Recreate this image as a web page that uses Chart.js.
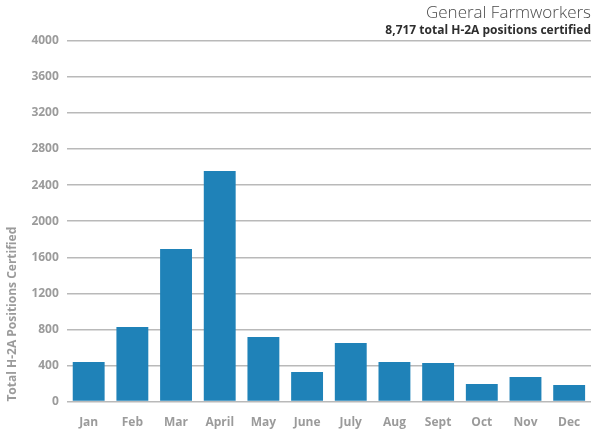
<!DOCTYPE html>
<html>
<head>
<meta charset="utf-8">
<script src="https://cdn.jsdelivr.net/npm/chart.js@4/dist/chart.umd.min.js"></script>
<style>
  html, body { margin: 0; padding: 0; background: #fff; }
  #wrap { width: 592px; height: 433px; position: relative; }
</style>
</head>
<body>
<div id="wrap"><canvas id="chart"></canvas></div>
<script>
// data
const months = ['Jan', 'Feb', 'Mar', 'April', 'May', 'June', 'July', 'Aug', 'Sept', 'Oct', 'Nov', 'Dec'];
const positions = [440, 828, 1692, 2556, 717, 329, 650, 440, 429, 196, 274, 185];
const yMin = 0;
const yMax = 4000;
const yStep = 400;

const titleText = 'General Farmworkers';
const subtitleText = '8,717 total H-2A positions certified';
const yTitleText = 'Total H-2A Positions Certified';

const barColor = '#1f82b8';
const tickGrey = '#9b9b9b';
const gridGrey = '#b9b9b9';
const fontFamily = '"Open Sans", Lato, sans-serif';

const ctx = document.getElementById('chart').getContext('2d');
const chart = new Chart(ctx, {
    type: 'bar',
    data: {
        labels: months,
        datasets: [{
            label: 'Positions certified',
            data: positions,
            backgroundColor: barColor,
            borderWidth: 0,
            categoryPercentage: 1,
            barPercentage: 0.73
        }]
    },
    options: {
        responsive: true,
        maintainAspectRatio: false,
        animation: false,
        layout: { padding: { left: 5, right: 1, top: 0, bottom: 3 } },
        plugins: {
            legend: { display: false },
            tooltip: { enabled: false },
            title: {
                display: true,
                text: titleText,
                align: 'end',
                color: '#4a4a4a',
                font: { family: fontFamily, size: 17, weight: '300' },
                padding: { top: 3, bottom: 0 }
            },
            subtitle: {
                display: true,
                text: subtitleText,
                align: 'end',
                color: '#2e2e2e',
                font: { family: fontFamily, size: 12, weight: 'bold' },
                padding: { top: 0, bottom: 3 }
            }
        },
        scales: {
            x: {
                grid: { display: false, tickLength: 14 },
                border: { display: false },
                ticks: {
                    color: tickGrey,
                    padding: 0,
                    font: { family: fontFamily, size: 12, weight: 'bold' }
                }
            },
            y: {
                min: yMin,
                max: yMax,
                border: { display: false },
                grid: { color: gridGrey, lineWidth: 1.5, drawTicks: false },
                ticks: {
                    stepSize: yStep,
                    color: tickGrey,
                    padding: 8,
                    callback: (v) => String(v),
                    font: { family: fontFamily, size: 12, weight: 'bold' }
                },
                title: {
                    display: true,
                    text: yTitleText,
                    align: 'start',
                    color: tickGrey,
                    padding: { top: 0, bottom: 4 },
                    font: { family: fontFamily, size: 12, weight: 'bold' }
                }
            }
        }
    }
});
</script>
</body>
</html>
